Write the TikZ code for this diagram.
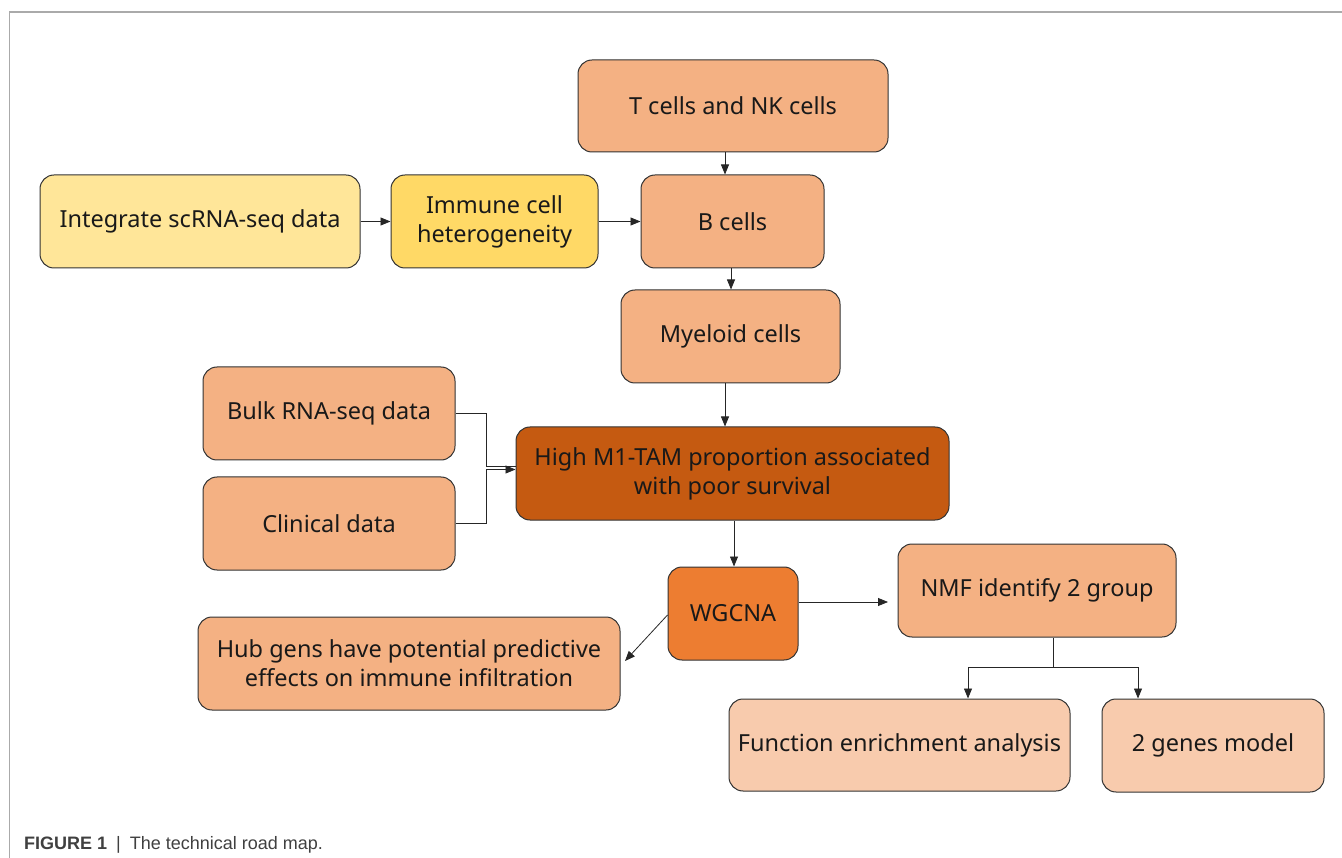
\documentclass[tikz,border=0pt]{standalone}
\usepackage{fontspec}
\setmainfont{Noto Sans}
\newfontfamily\capfont{Liberation Sans}
\usetikzlibrary{arrows.meta}
\definecolor{salmon}{HTML}{F4B183}
\definecolor{lightsalmon}{HTML}{F8CBAD}
\definecolor{paleyellow}{HTML}{FFE699}
\definecolor{gold}{HTML}{FFD966}
\definecolor{darkorange}{HTML}{C55A11}
\definecolor{midorange}{HTML}{ED7D31}
\definecolor{framegray}{HTML}{AAAAAA}
\tikzset{
  box/.style={draw=black!80, line width=1pt, rounded corners=14pt, inner sep=0pt, align=center,
    font=\fontsize{23.5}{29}\selectfont, text=black!90},
  arr/.style={-{Triangle[length=10pt,width=8pt]}, line width=0.8pt, draw=black!85},
  ln/.style={line width=0.8pt, draw=black!85}
}
\begin{document}
\begin{tikzpicture}[x=1pt,y=-1pt]
\useasboundingbox (0,0) rectangle (1342,858);
\draw[framegray, line width=1.2pt] (1342,12) -- (9.5,12) -- (9.5,858);
% nodes
\node[box, fill=salmon, minimum width=310pt, minimum height=92pt] (tnk) at (733,106) {T cells and NK cells};
\node[box, fill=paleyellow, minimum width=320pt, minimum height=93pt] (integ) at (200,221.5) {Integrate scRNA-seq data};
\node[box, fill=gold, minimum width=207pt, minimum height=93pt] (immune) at (494.5,221.5) {Immune cell\\heterogeneity};
\node[box, fill=salmon, minimum width=183pt, minimum height=93pt] (bcell) at (732.5,221.5) {B cells};
\node[box, fill=salmon, minimum width=219pt, minimum height=93pt] (myel) at (730.5,336.5) {Myeloid cells};
\node[box, fill=salmon, minimum width=252pt, minimum height=93pt] (bulk) at (329,413.5) {Bulk RNA-seq data};
\node[box, fill=salmon, minimum width=252pt, minimum height=93pt] (clin) at (329,523.5) {Clinical data};
\node[box, fill=darkorange, minimum width=433pt, minimum height=93pt] (high) at (732.5,473.5) {High M1-TAM proportion associated\\with poor survival};
\node[box, fill=midorange, minimum width=130pt, minimum height=93pt] (wgcna) at (733,613.5) {WGCNA};
\node[box, fill=salmon, minimum width=278pt, minimum height=93pt] (nmf) at (1037,590.5) {NMF identify 2 group};
\node[box, fill=salmon, minimum width=422pt, minimum height=93pt] (hub) at (409,663.5) {Hub gens have potential predictive\\effects on immune infiltration};
\node[box, fill=lightsalmon, minimum width=341pt, minimum height=92pt] (func) at (899.5,745) {Function enrichment analysis};
\node[box, fill=lightsalmon, minimum width=222pt, minimum height=93pt] (two) at (1213,745.5) {2 genes model};
% connectors
\draw[arr] (tnk.south -| 725,0) -- (bcell.north -| 725,0);
\draw[arr] (integ.east) -- (immune.west);
\draw[arr] (immune.east) -- (bcell.west);
\draw[arr] (bcell.south -| 731,0) -- (myel.north -| 731,0);
\draw[arr] (myel.south -| 725,0) -- (high.north -| 725,0);
\draw[arr] (high.south -| 734,0) -- (wgcna.north -| 734,0);
\coordinate (j1) at (486,413.5);
\coordinate (j2) at (486,523.5);
\draw[ln] (bulk.east) -- (j1) -- (486,466) -- (high.west |- 0,466);
\draw[arr] (clin.east) -- (j2) -- (486,469.5) -- (high.west |- 0,469.5);
\coordinate (nmfend) at (888,602);
\draw[arr] (wgcna.east |- 0,602) -- (nmfend);
\coordinate (hubend) at (625,661);
\draw[arr] (wgcna.west |- 0,615) -- (hubend);
\coordinate (split) at (1053,667);
\draw[ln] (nmf.south -| split) -- (split);
\draw[arr] (split) -- (968,667) -- (func.north -| 968,0);
\draw[arr] (split) -- (1138,667) -- (two.north -| 1138,0);
% caption
\node[anchor=base west, inner sep=0pt, font=\capfont\fontsize{18}{21}\selectfont, text=black!75] (cap) at (24,849) {\textbf{FIGURE 1}\enspace|\enspace The technical road map.};
\end{tikzpicture}
\end{document}
